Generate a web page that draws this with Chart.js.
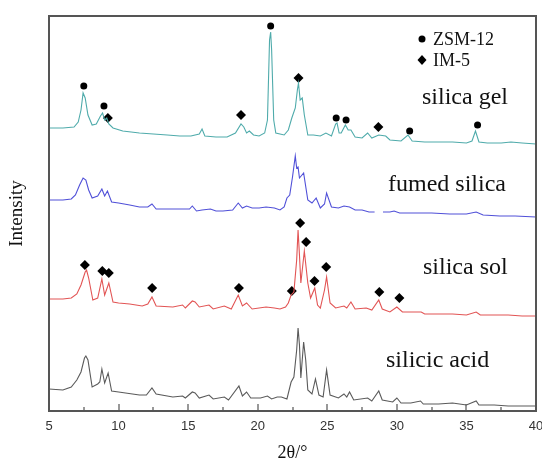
<!DOCTYPE html>
<html>
<head>
<meta charset="utf-8">
<script src="https://cdn.jsdelivr.net/npm/chart.js@4"></script>
<style>
html,body{margin:0;padding:0;background:#fff;}
canvas{display:block;}
</style>
</head>
<body>
<canvas id="c" width="542" height="459"></canvas>
<script>
// ---- data (2θ in degrees, intensity in arbitrary units, traces stacked) ----
const gelTheta = [5.0,6.0,6.8,7.1,7.3,7.45,7.6,7.8,8.1,8.4, 8.7,8.85,9.0,9.15,9.3,9.6,10.3,11.5,12.5,13.5, 14.4,15.2,15.8,16.0,16.2,17.0,17.8,18.4,18.8,19.0, 19.2,19.4,19.7,20.1,20.5,20.7,20.85,20.93,21.0,21.15, 21.3,21.6,21.9,22.2,22.45,22.7,22.85,22.93,23.05,23.2, 23.35,23.6,24.0,24.5,24.9,25.3,25.6,25.7,25.85,26.0, 26.3,26.5,26.7,27.0,27.5,27.9,28.2,28.7,29.2,29.5, 30.3,30.8,31.1,32,33,34,35,35.4,35.65,35.9, 36.5,37.5,38.2,39,40];
const gelIntensity = [283,283,284,289,301,318,313,296,286,287, 295,298,291,293,287,283,280,278,277,276, 275,275,277,282,275,274,274,278,287,284, 278,280,276,275,278,291,371,379,361,291, 278,277,276,281,293,303,321,328,311,313, 296,276,276,275,278,275,287,288,278,278, 286,281,281,274,273,278,273,276,275,271, 270,276,270,269,269,269,268,270,280,269, 268,268,269,268,267];

const fumedTheta = [5.0,6.0,6.6,6.9,7.2,7.45,7.65,7.85,8.1,8.5, 8.8,9.0,9.2,9.5,10.0,10.8,11.5,12.1,12.4,12.7, 13.5,14.5,15.1,15.3,15.6,16.0,16.6,17.0,17.5,18.2, 18.6,18.9,19.2,19.6,20.1,20.6,21.2,21.6,21.9,22.1, 22.3,22.5,22.7,22.8,22.9,23.0,23.3,23.6,23.9,24.2, 24.5,24.8,24.95,25.3,25.8,26.2,26.6,27.0,27.5,28.0, 28.4,28.6,29.0,29.5,29.8,30.2,31.4,32.5,33.8,35.0, 35.7,36.2,37.4,38.5,40];
const fumedIntensity = [211,211,212,216,226,233,231,221,213,215, 222,215,220,209,208,206,204,204,207,202, 202,202,202,205,200,201,202,200,200,201, 208,203,205,203,203,204,203,201,204,213, 216,234,255,243,244,233,238,211,208,213, 203,207,218,204,203,205,204,201,201,199, 199,null,199,199,200,198,198,198,197,197, 199,196,195,195,194];

const solTheta = [5.0,6.0,6.6,7.0,7.3,7.6,7.7,7.85,8.15,8.5, 8.8,9.0,9.3,9.6,10.0,10.8,11.7,12.1,12.4,12.7, 13.9,14.6,14.8,15.3,15.5,15.8,16.5,16.8,17.6,18.1, 18.6,18.9,19.2,19.6,20.6,21.2,21.6,22.0,22.2,22.4, 22.6,22.8,22.9,23.0,23.1,23.35,23.6,23.8,24.1,24.3, 24.5,24.8,24.95,25.2,25.6,26.2,26.4,26.7,27.0,27.8, 28.2,28.7,28.95,29.5,30.0,30.4,31.0,31.75,32.0,33.0, 34.0,35.0,35.7,36.0,37.0,38,39,40];
const solIntensity = [112,112,113,117,126,139,141,133,111,113, 132,116,128,109,108,107,105,107,114,105, 104,106,103,110,109,104,106,102,105,102, 116,105,108,102,104,103,102,104,108,116, 119,151,181,156,128,160,128,113,123,106, 103,121,134,108,103,105,103,109,102,103, 101,111,102,99,104,99,99,99,97,97, 97,96,99,96,96,96,95,95];

const acidTheta = [5.0,6.0,6.6,7.0,7.3,7.55,7.65,7.8,8.1,8.5, 8.65,8.8,9.0,9.25,9.5,10.0,11.0,11.5,12.0,12.4, 12.7,13.9,14.6,14.8,15.3,15.5,15.8,16.5,16.8,17.6, 17.9,18.65,18.9,19.2,19.5,20.2,20.7,21.0,21.4,21.7, 22.1,22.4,22.6,22.8,22.9,23.0,23.1,23.3,23.45,23.6, 23.9,24.15,24.4,24.7,24.95,25.2,25.8,26.2,26.4,26.6, 26.9,27.9,28.2,28.7,28.95,29.7,30.0,30.3,31.0,31.7, 31.9,33.0,34.0,35.0,35.7,35.9,37.0,38.0,39.0,40];
const acidIntensity = [22,21,24,31,39,53,55,51,24,27, 29,42,28,38,20,19,17,16,16,23, 17,14,15,13,19,18,13,16,12,14, 11,25,15,19,13,13,15,12,14,14, 12,29,34,61,83,66,33,69,51,21, 17,32,16,14,41,16,13,17,14,19, 11,13,10,20,11,9,13,8,8,10, 7,7,8,6,10,6,6,5,5,5];

// phase markers
const zsmTheta = [7.5,8.95,20.93,25.64,26.35,30.92,35.8];
const zsmIntensity = [325,305,385,293,291,280,286];
const im5Theta = [9.23,18.8,22.93,28.67, 7.58,8.83,9.3,12.41,18.65,22.45,23.05,23.48,24.08,24.92,28.74,30.18];
const im5Intensity = [293,296,333,284, 146,140,138,123,123,120,188,169,130,144,119,113];

const sampleNames = ['silica gel','fumed silica','silica sol','silicic acid'];
const legendNames = ['ZSM-12','IM-5'];
const xTicks = [5,10,15,20,25,30,35,40];

function pts(xs, ys){ return xs.map((x,i)=>({x:x, y:ys[i]})); }

const SERIF = '"Liberation Serif","Times New Roman",serif';
const SANS = '"Liberation Sans",Arial,sans-serif';

const annot = {
  id:'annot',
  afterDraw(chart){
    const ctx = chart.ctx, xs = chart.scales.x, a = chart.chartArea;
    ctx.save();
    ctx.setLineDash([]);
    ctx.globalAlpha = 1;
    // frame (filled bars so each edge is crisp)
    ctx.fillStyle = '#555';
    const L = Math.round(a.left), R = Math.round(a.right), T = Math.round(a.top), B = Math.round(a.bottom);
    ctx.fillRect(L-1, T-1, R-L+2, 2);   // top
    ctx.fillRect(L-1, B-1, R-L+2, 2);   // bottom
    ctx.fillRect(L-1, T-1, 2, B-T+2);   // left
    ctx.fillRect(R-1, T-1, 2, B-T+2);   // right
    // inward ticks on x axis
    for (let v = 7.5; v < 40; v += 2.5){
      const px = Math.round(xs.getPixelForValue(v));
      const major = Math.abs(v/5 - Math.round(v/5)) < 1e-6;
      const len = major ? 7 : 4;
      ctx.fillRect(px-0.6, B-len, 1.2, len);
    }
    // sample labels
    ctx.fillStyle = '#111'; ctx.font = '24px '+SERIF; ctx.textBaseline = 'alphabetic'; ctx.textAlign='left';
    const lab = [[422,104],[388,191],[423,274],[386,367]];
    sampleNames.forEach((n,i)=>ctx.fillText(n, lab[i][0], lab[i][1]));
    // legend
    ctx.font = '18px '+SERIF;
    ctx.fillStyle = '#000';
    ctx.beginPath(); ctx.arc(422,39,3.5,0,Math.PI*2); ctx.fill();
    ctx.beginPath(); ctx.moveTo(422,55); ctx.lineTo(426.5,60); ctx.lineTo(422,65); ctx.lineTo(417.5,60); ctx.closePath(); ctx.fill();
    ctx.fillStyle = '#111';
    ctx.fillText(legendNames[0], 433, 45);
    ctx.fillText(legendNames[1], 433, 66);
    ctx.restore();
  }
};

new Chart(document.getElementById('c'), {
  type:'line',
  data:{
    datasets:[
      {label:sampleNames[0], data:pts(gelTheta,gelIntensity), borderColor:'#4fabab', borderWidth:1.1, pointRadius:0, tension:0},
      {label:sampleNames[1], data:pts(fumedTheta,fumedIntensity), borderColor:'#5050d8', borderWidth:1.1, pointRadius:0, tension:0, spanGaps:false},
      {label:sampleNames[2], data:pts(solTheta,solIntensity), borderColor:'#e25454', borderWidth:1.1, pointRadius:0, tension:0},
      {label:sampleNames[3], data:pts(acidTheta,acidIntensity), borderColor:'#5a5a5a', borderWidth:1.1, pointRadius:0, tension:0},
      {type:'scatter', label:legendNames[0], data:pts(zsmTheta,zsmIntensity), showLine:false, pointStyle:'circle', pointRadius:3.5, backgroundColor:'#000', borderColor:'#000', borderWidth:0},
      {type:'scatter', label:legendNames[1], data:pts(im5Theta,im5Intensity), showLine:false, pointStyle:'rectRot', pointRadius:5, backgroundColor:'#000', borderColor:'#000', borderWidth:0}
    ]
  },
  options:{
    responsive:false, animation:false, devicePixelRatio:1,
    layout:{padding:{top:16,right:6,left:0,bottom:0}},
    plugins:{legend:{display:false}, tooltip:{enabled:false}},
    scales:{
      x:{type:'linear', min:5, max:40,
         afterFit(s){ s.height = 48; s.paddingLeft = 0; s.paddingRight = 0; },
         grid:{display:false, drawTicks:false}, border:{display:false},
         ticks:{stepSize:5, autoSkip:false, maxRotation:0, padding:8, color:'#333', font:{family:SANS, size:13},
                callback:(v)=> xTicks.includes(v) ? String(v) : ''},
         title:{display:true, text:'2θ/°', color:'#111', font:{family:SERIF, size:18, lineHeight:0.6}, padding:{top:0,bottom:0}}
      },
      y:{type:'linear', min:0, max:395,
         afterFit(s){ s.width = 49; s.paddingTop = 0; s.paddingBottom = 0; },
         grid:{display:false, drawTicks:false}, border:{display:false},
         ticks:{display:false},
         title:{display:true, text:'Intensity', color:'#111', font:{family:SERIF, size:19}, padding:{top:6,bottom:0}}
      }
    }
  },
  plugins:[annot]
});
</script>
</body>
</html>
